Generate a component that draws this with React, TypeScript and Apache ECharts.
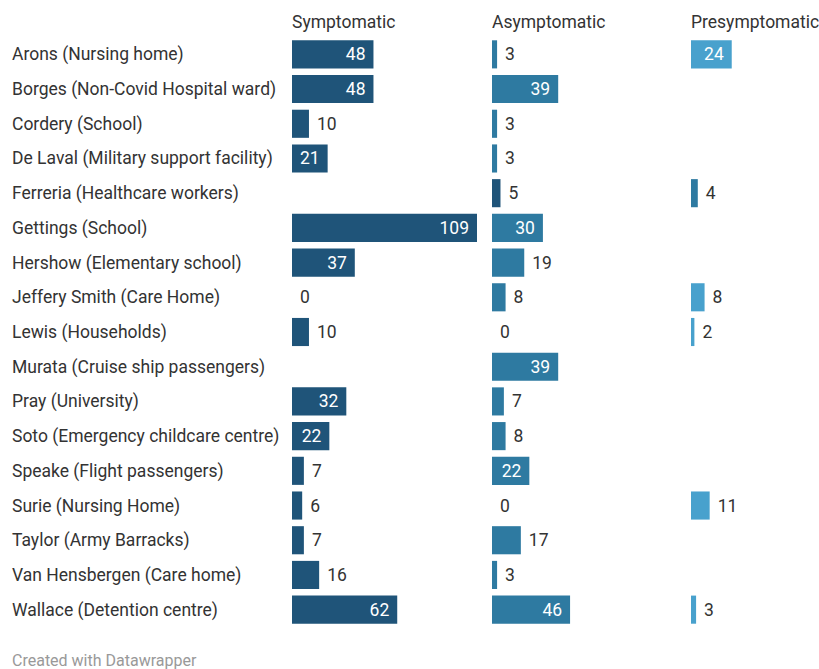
import React, { useEffect, useRef } from "react";
import * as echarts from "echarts";

const categories = [
  "Arons (Nursing home)",
  "Borges (Non-Covid Hospital ward)",
  "Cordery (School)",
  "De Laval (Military support facility)",
  "Ferreria (Healthcare workers)",
  "Gettings (School)",
  "Hershow (Elementary school)",
  "Jeffery Smith (Care Home)",
  "Lewis (Households)",
  "Murata (Cruise ship passengers)",
  "Pray (University)",
  "Soto (Emergency childcare centre)",
  "Speake (Flight passengers)",
  "Surie (Nursing Home)",
  "Taylor (Army Barracks)",
  "Van Hensbergen (Care home)",
  "Wallace (Detention centre)",
];

const symptomatic: (number | null)[] = [48, 48, 10, 21, null, 109, 37, 0, 10, null, 32, 22, 7, 6, 7, 16, 62];
const asymptomatic: (number | null)[] = [3, 39, 3, 3, 5, 30, 19, 8, 0, 39, 7, 8, 22, 0, 17, 3, 46];
const presymptomatic: (number | null)[] = [24, null, null, null, 4, null, null, 8, 2, null, null, null, null, 11, null, null, 3];

const panelTitles = ["Symptomatic", "Asymptomatic", "Presymptomatic"];

const DARK = "#1f5479";
const MID = "#2e7aa1";
const LIGHT = "#48a1cd";
const panelColors = [DARK, MID, LIGHT];
// Ferreria row colours shift one step (no symptomatic value)
const rowColorOverride: Record<number, string[]> = { 4: [DARK, DARK, MID] };

const FONT = "Roboto, 'Noto Sans', sans-serif";
const panelLefts = [292, 492, 691];
const panelWidths = [185, 185, 128];
const fullWidth = 185;
const fullMax = 109;

export default function App() {
  const ref = useRef<HTMLDivElement>(null);
  useEffect(() => {
    if (!ref.current) return;
    const chart = echarts.init(ref.current, undefined, { renderer: "svg" });
    const seriesArrays = [symptomatic, asymptomatic, presymptomatic];

    const grids = panelLefts.map((left, i) => ({
      left,
      width: panelWidths[i],
      top: 37,
      height: 590,
      containLabel: false,
    }));

    const xAxes = panelLefts.map((_, i) => ({
      type: "value" as const,
      gridIndex: i,
      min: 0,
      max: (fullMax * panelWidths[i]) / fullWidth,
      show: false,
    }));

    const yAxes = panelLefts.map((_, i) => ({
      type: "category" as const,
      gridIndex: i,
      data: categories,
      inverse: true,
      axisLine: { show: false },
      axisTick: { show: false },
      splitLine: { show: false },
      axisLabel: {
        show: i === 0,
        align: "left" as const,
        margin: 280,
        fontFamily: FONT,
        fontSize: 17.5,
        color: "#333333",
      },
    }));

    const series = seriesArrays.map((arr, si) => ({
      type: "bar" as const,
      name: panelTitles[si],
      xAxisIndex: si,
      yAxisIndex: si,
      barCategoryGap: "19%",
      data: arr.map((v, ri) => {
        if (v === null) return "-";
        const color = rowColorOverride[ri] ? rowColorOverride[ri][si] : panelColors[si];
        const inside = v >= 20;
        return {
          value: v,
          itemStyle: { color },
          label: {
            show: true,
            position: inside ? "insideRight" : "right",
            distance: 8,
            color: inside ? "#ffffff" : "#333333",
            fontFamily: FONT,
            fontSize: 17.5,
          },
        };
      }),
    }));

    chart.setOption({
      animation: false,
      backgroundColor: "#ffffff",
      grid: grids,
      xAxis: xAxes,
      yAxis: yAxes,
      series,
      graphic: [
        ...panelTitles.map((t, i) => ({
          type: "text",
          left: panelLefts[i],
          top: 13,
          style: { text: t, fontFamily: FONT, fontSize: 17.5, fill: "#333333" },
        })),
        {
          type: "text",
          left: 12,
          top: 652,
          style: { text: "Created with Datawrapper", fontFamily: FONT, fontSize: 16, fill: "#999999" },
        },
      ],
    });
    return () => chart.dispose();
  }, []);
  return <div ref={ref} style={{ width: 819, height: 669, position: "absolute", left: 0, top: 0 }} />;
}
